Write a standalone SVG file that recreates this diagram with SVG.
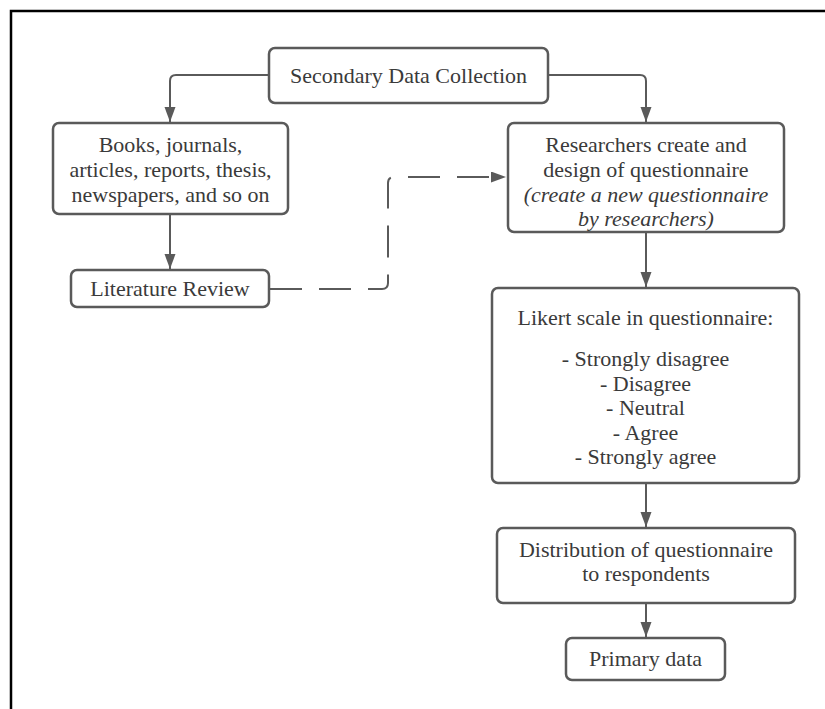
<svg xmlns="http://www.w3.org/2000/svg" width="825" height="709" viewBox="0 0 825 709">
<style>
.box{fill:#fff;stroke:#5a5a5a;stroke-width:2.5}
.t{font-family:'Liberation Serif','DejaVu Serif',serif;font-size:22px;fill:#3a3a3a;text-anchor:middle}
.i{font-style:italic}
.c{fill:none;stroke:#5a5a5a;stroke-width:2}
.d{stroke-dasharray:32 17}
</style>
<defs>
<marker id="ah" markerUnits="userSpaceOnUse" markerWidth="16" markerHeight="12" refX="15" refY="5.5" orient="auto">
<path d="M0,0 L15,5.5 L0,11 z" fill="#5a5a5a"/>
</marker>
</defs>
<rect width="825" height="709" fill="#fff"/>
<path d="M11,709 V11 H825" fill="none" stroke="#000" stroke-width="2.5"/>
<g id="connectors">
<path class="c" d="M269,75 H176 Q170,75 170,81 V122" marker-end="url(#ah)"/>
<path class="c" d="M548,75 H640 Q646,75 646,81 V122" marker-end="url(#ah)"/>
<path class="c" d="M170,214 V269" marker-end="url(#ah)"/>
<path class="c d" d="M270,289 H382 Q388,289 388,283 V183 Q388,177 394,177 H506" marker-end="url(#ah)"/>
<path class="c" d="M646,232 V287" marker-end="url(#ah)"/>
<path class="c" d="M646,483 V527" marker-end="url(#ah)"/>
<path class="c" d="M646,603 V637" marker-end="url(#ah)"/>
</g>
<g id="secondary">
<rect class="box" x="269" y="48" width="279" height="55" rx="6"/>
<text class="t" x="408.5" y="83">Secondary Data Collection</text>
</g>
<g id="books">
<rect class="box" x="53" y="123" width="235" height="91" rx="6"/>
<text class="t" x="170.5" y="152">Books, journals,</text>
<text class="t" x="170.5" y="177">articles, reports, thesis,</text>
<text class="t" x="170.5" y="202">newspapers, and so on</text>
</g>
<g id="literature">
<rect class="box" x="71" y="270" width="198" height="37" rx="6"/>
<text class="t" x="170" y="296">Literature Review</text>
</g>
<g id="researchers">
<rect class="box" x="508" y="123" width="276" height="109" rx="6"/>
<text class="t" x="646" y="152">Researchers create and</text>
<text class="t" x="646" y="177">design of questionnaire</text>
<text class="t i" x="646" y="202">(create a new questionnaire</text>
<text class="t i" x="646" y="226">by researchers)</text>
</g>
<g id="likert">
<rect class="box" x="492" y="288" width="307" height="195" rx="6"/>
<text class="t" x="645.5" y="325">Likert scale in questionnaire:</text>
<text class="t" x="645.5" y="366">- Strongly disagree</text>
<text class="t" x="645.5" y="391">- Disagree</text>
<text class="t" x="645.5" y="415">- Neutral</text>
<text class="t" x="645.5" y="440">- Agree</text>
<text class="t" x="645.5" y="464">- Strongly agree</text>
</g>
<g id="distribution">
<rect class="box" x="497" y="528" width="298" height="75" rx="6"/>
<text class="t" x="646" y="557">Distribution of questionnaire</text>
<text class="t" x="646" y="581">to respondents</text>
</g>
<g id="primary">
<rect class="box" x="566" y="638" width="159" height="42" rx="6"/>
<text class="t" x="645.5" y="666">Primary data</text>
</g>
</svg>
